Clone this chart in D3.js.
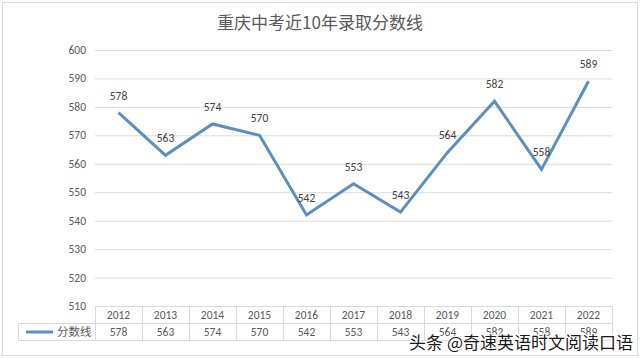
<!DOCTYPE html>
<html>
<head>
<meta charset="utf-8">
<script src="https://cdn.jsdelivr.net/npm/d3@7"></script>
<style>
  body { margin: 0; background: #fff; }
  svg { display: block; font-family: Calibri, "Liberation Sans", "Noto Sans CJK SC", sans-serif; }
</style>
</head>
<body>
<svg id="chart" width="640" height="358"></svg>
<script>
// chart data
const years = ["2012","2013","2014","2015","2016","2017","2018","2019","2020","2021","2022"]
const scores = [578, 563, 574, 570, 542, 553, 543, 564, 582, 558, 589]
const yTicks = [510, 520, 530, 540, 550, 560, 570, 580, 590, 600]
const seriesName = "分数线"
const title = "重庆中考近10年录取分数线"

const width = 640, height = 358
const plot = {left: 95, right: 612, top: 50, bottom: 306}
const lineColor = "#5b8fbf"
const textColor = "#595959"
const cjk = "'Noto Sans CJK SC', sans-serif"

const svg = d3.select("#chart")

// outer frame
svg.append("rect")
  .attr("x", 2.5).attr("y", 2.5)
  .attr("width", width - 5).attr("height", height - 5)
  .attr("fill", "#fff").attr("stroke", "#d9d9d9")

svg.append("text")
  .attr("x", 320).attr("y", 29)
  .attr("text-anchor", "middle")
  .attr("font-family", cjk)
  .attr("font-size", 17)
  .attr("fill", textColor)
  .text(title)

const x = d3.scaleBand().domain(years).range([plot.left, plot.right])
const y = d3.scaleLinear().domain([510, 600]).range([plot.bottom, plot.top])

// gridlines
svg.append("g").selectAll("line")
  .data(yTicks)
  .join("line")
  .attr("x1", plot.left).attr("x2", plot.right)
  .attr("y1", d => y(d) + 0.5).attr("y2", d => y(d) + 0.5)
  .attr("stroke", "#d9d9d9")

svg.append("g").selectAll("text")
  .data(yTicks)
  .join("text")
  .attr("x", 86).attr("y", d => y(d) + 4)
  .attr("text-anchor", "end")
  .attr("font-size", 11.5)
  .attr("fill", textColor)
  .text(d => d)

// line
const line = d3.line()
  .x((d, i) => x(years[i]) + x.bandwidth() / 2)
  .y(d => y(d))

svg.append("path")
  .datum(scores)
  .attr("d", line)
  .attr("fill", "none")
  .attr("stroke", lineColor)
  .attr("stroke-width", 3)
  .attr("stroke-linejoin", "miter")

svg.append("g").selectAll("text")
  .data(scores)
  .join("text")
  .attr("x", (d, i) => x(years[i]) + x.bandwidth() / 2)
  .attr("y", d => y(d) - 13)
  .attr("text-anchor", "middle")
  .attr("font-size", 11.5)
  .attr("fill", "#404040")
  .text(d => d)

// data table under the plot
const rowH = 17
const table = svg.append("g").attr("stroke", "#d9d9d9").attr("fill", "none")
table.append("rect")
  .attr("x", plot.left + 0.5).attr("y", plot.bottom + 0.5)
  .attr("width", plot.right - plot.left).attr("height", rowH * 2)
table.append("rect")
  .attr("x", 18.5).attr("y", plot.bottom + rowH + 0.5)
  .attr("width", plot.left - 18).attr("height", rowH)
table.append("line")
  .attr("x1", plot.left).attr("x2", plot.right)
  .attr("y1", plot.bottom + rowH + 0.5).attr("y2", plot.bottom + rowH + 0.5)
table.selectAll("line.col")
  .data(years.slice(1))
  .join("line")
  .attr("class", "col")
  .attr("x1", d => x(d) + 0.5).attr("x2", d => x(d) + 0.5)
  .attr("y1", plot.bottom).attr("y2", plot.bottom + rowH * 2)

svg.append("g").selectAll("text")
  .data(years)
  .join("text")
  .attr("x", d => x(d) + x.bandwidth() / 2)
  .attr("y", plot.bottom + 13)
  .attr("text-anchor", "middle")
  .attr("font-size", 11.5)
  .attr("fill", textColor)
  .text(d => d)

svg.append("g").selectAll("text")
  .data(scores)
  .join("text")
  .attr("x", (d, i) => x(years[i]) + x.bandwidth() / 2)
  .attr("y", plot.bottom + rowH + 13)
  .attr("text-anchor", "middle")
  .attr("font-size", 11.5)
  .attr("fill", textColor)
  .text(d => d)

// legend key
svg.append("line")
  .attr("x1", 26).attr("x2", 53)
  .attr("y1", plot.bottom + rowH * 1.5 + 0.5).attr("y2", plot.bottom + rowH * 1.5 + 0.5)
  .attr("stroke", lineColor).attr("stroke-width", 3)
svg.append("text")
  .attr("x", 57).attr("y", plot.bottom + rowH + 13)
  .attr("font-family", cjk)
  .attr("font-size", 11.5)
  .attr("fill", textColor)
  .text(seriesName)

// watermark
svg.append("text")
  .attr("x", 633).attr("y", 349)
  .attr("text-anchor", "end")
  .attr("font-family", cjk)
  .attr("font-size", 17)
  .attr("fill", "#1a1a1a")
  .attr("stroke", "#fff")
  .attr("stroke-width", 2.5)
  .attr("paint-order", "stroke")
  .text("头条 @奇速英语时文阅读口语")
</script>
</body>
</html>
